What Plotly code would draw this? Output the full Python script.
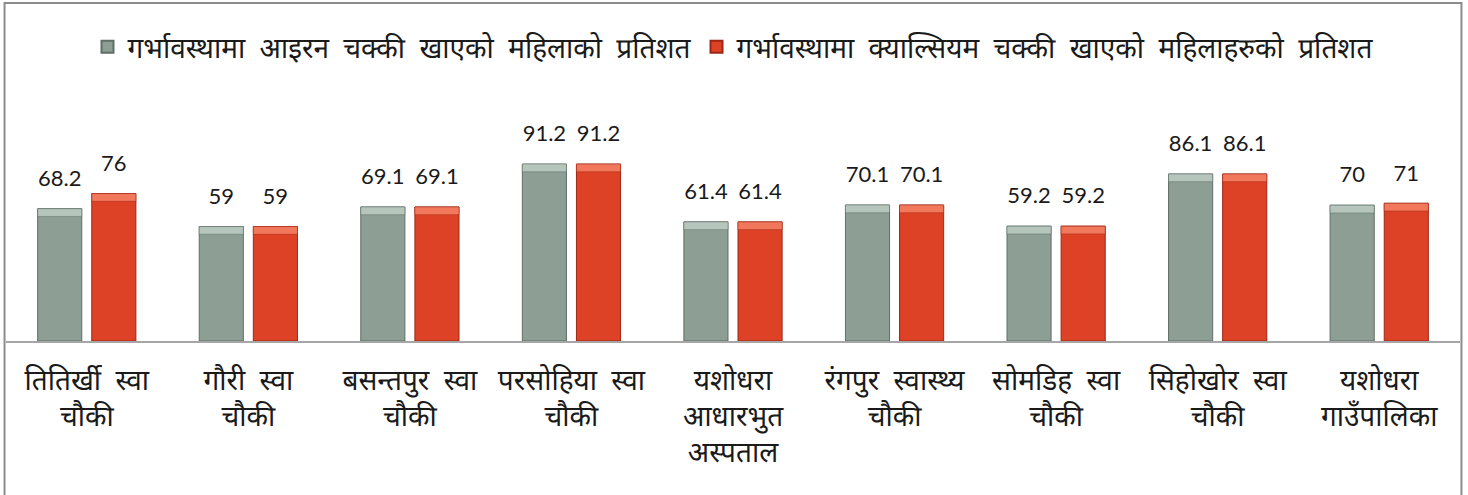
import plotly.graph_objects as go

# Health facilities (category axis)
categories = [
    "तितिर्खी  स्वा<br>चौकी",
    "गौरी  स्वा<br>चौकी",
    "बसन्तपुर  स्वा<br>चौकी",
    "परसोहिया  स्वा<br>चौकी",
    "यशोधरा<br>आधारभुत<br>अस्पताल",
    "रंगपुर  स्वास्थ्य<br>चौकी",
    "सोमडिह  स्वा<br>चौकी",
    "सिहोखोर  स्वा<br>चौकी",
    "यशोधरा<br>गाउँपालिका",
]

iron_name = "गर्भावस्थामा  आइरन  चक्की  खाएको  महिलाको  प्रतिशत"
calcium_name = "गर्भावस्थामा  क्याल्सियम  चक्की  खाएको  महिलाहरुको  प्रतिशत"

iron_values = [68.2, 59, 69.1, 91.2, 61.4, 70.1, 59.2, 86.1, 70]
calcium_values = [76, 59, 69.1, 91.2, 61.4, 70.1, 59.2, 86.1, 71]

FONT = "Lato, 'Noto Sans Devanagari', 'Noto Sans', sans-serif"
DEVA_SIZE = 28
GREY, GREY_LIGHT, GREY_EDGE = "#8d9e94", "#b6c6bc", "#5f6e66"
RED, RED_LIGHT, RED_EDGE = "#de4226", "#f2785c", "#9e2614"
BEVEL = 4.0  # depth of the lighter cap drawn on top of each bar (axis units)
BARGAP = 0.33

fig = go.Figure()


def add_series(name, values, group, main, light, edge):
    fig.add_trace(go.Bar(
        x=categories, y=values, name=name, offsetgroup=group,
        marker=dict(color=main, line=dict(color=edge, width=1)),
        hoverinfo="skip",
    ))
    # lighter bevel cap on top of each bar
    fig.add_trace(go.Bar(
        x=categories, y=[BEVEL] * len(values),
        base=[v - BEVEL for v in values], offsetgroup=group,
        marker=dict(color=light, line=dict(color=edge, width=0.5)),
        showlegend=False, hoverinfo="skip",
    ))
    # value labels above the bars
    fig.add_trace(go.Scatter(
        x=categories, y=values, mode="markers+text", offsetgroup=group,
        text=[f"{v:g}" for v in values], textposition="top center",
        textfont=dict(family=FONT, size=22, color="#1a1a1a"),
        marker=dict(size=26, color="rgba(0,0,0,0)"),
        showlegend=False, hoverinfo="skip", cliponaxis=False,
    ))


add_series(iron_name, iron_values, "iron", GREY, GREY_LIGHT, GREY_EDGE)
add_series(calcium_name, calcium_values, "calcium", RED, RED_LIGHT, RED_EDGE)

plot_h = 194
fig.update_layout(
    width=1468, height=495,
    margin=dict(l=6, r=8, t=147, b=154),
    paper_bgcolor="white", plot_bgcolor="white",
    barmode="group", bargap=BARGAP, bargroupgap=0.185,
    scattermode="group", scattergap=BARGAP,
    font=dict(family=FONT, size=DEVA_SIZE, color="#1a1a1a"),
    showlegend=True,
    legend=dict(
        orientation="h", x=0.5, xanchor="center", y=(341 - 47) / plot_h,
        yanchor="middle", font=dict(family=FONT, size=DEVA_SIZE, color="#1a1a1a"),
        itemsizing="constant", bgcolor="rgba(0,0,0,0)", traceorder="normal",
        itemwidth=30,
    ),
    xaxis=dict(
        showline=True, linecolor="#a6a6a6", linewidth=2, ticks="",
        tickfont=dict(family=FONT, size=DEVA_SIZE, color="#1a1a1a"),
        ticklabelstandoff=13,
        showgrid=False, zeroline=False, fixedrange=True,
    ),
    yaxis=dict(
        range=[0, 100], visible=False, showgrid=False, zeroline=False,
        fixedrange=True,
    ),
    shapes=[dict(
        type="rect", xref="paper", yref="paper",
        x0=-0.001, x1=1.001, y0=-1.2, y1=(341 - 3) / plot_h,
        line=dict(color="#8c8c8c", width=2), fillcolor="rgba(0,0,0,0)",
        layer="above",
    )],
)

fig.write_html("out.html")
